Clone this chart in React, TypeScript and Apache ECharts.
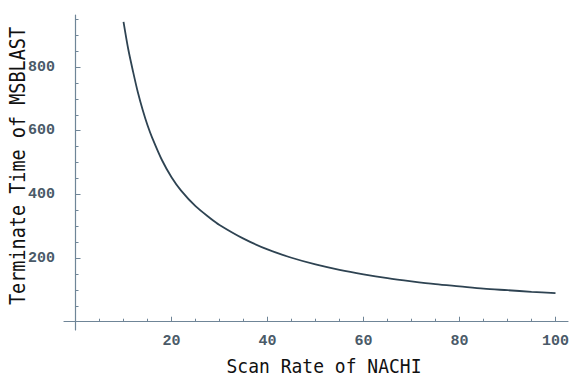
import React, { useEffect, useRef } from "react";
import * as echarts from "echarts";

const scanRate = [10, 11, 12, 13, 14, 15, 16, 18, 20, 22, 25, 28, 30, 35, 40, 45, 50, 55, 60, 65, 70, 75, 80, 85, 90, 95, 100];
const terminateTime = [942, 855, 785, 720, 665, 617, 577, 508, 454, 412, 363, 326, 304, 261, 227, 201, 180, 163, 149, 137, 127, 118, 111, 104, 99, 94, 90];
const xMajorTicks = [20, 40, 60, 80, 100];
const xMinorTicks = [5, 10, 15, 25, 30, 35, 45, 50, 55, 65, 70, 75, 85, 90, 95];
const yMajorTicks = [200, 400, 600, 800];
const yMinorTicks = [50, 100, 150, 250, 300, 350, 450, 500, 550, 650, 700, 750, 850, 900, 950];
const xTitle = "Scan Rate of NACHI";
const yTitle = "Terminate Time of MSBLAST";

const AXIS_COLOR = "#6f8597";
const LABEL_COLOR = "#4a5a68";
const CURVE_COLOR = "#2e4352";

export default function App() {
  const ref = useRef<HTMLDivElement>(null);
  useEffect(() => {
    document.body.style.margin = "0";
    const chart = echarts.init(ref.current!, null, { renderer: "svg" });
    const xRange = { min: -2.4, max: 102.6 };
    const yRange = { min: -26, max: 963.5 };
    const labelFont = {
      fontFamily: "Liberation Mono",
      fontWeight: "bold" as const,
      fontSize: 15,
      color: LABEL_COLOR,
    };
    chart.setOption({
      animation: false,
      backgroundColor: "#ffffff",
      grid: { left: 64, right: 2, top: 15, bottom: 49, containLabel: false },
      xAxis: [
        {
          type: "value",
          ...xRange,
          position: "bottom",
          splitLine: { show: false },
          axisLine: { show: true, onZero: true, onZeroAxisIndex: 0, lineStyle: { color: AXIS_COLOR, width: 1.2 } },
          axisTick: { show: true, inside: true, length: 5, customValues: xMajorTicks, lineStyle: { color: AXIS_COLOR } },
          axisLabel: { show: true, customValues: xMajorTicks, margin: 4, ...labelFont },
        },
        {
          type: "value",
          ...xRange,
          position: "bottom",
          splitLine: { show: false },
          axisLine: { show: false, onZero: true, onZeroAxisIndex: 0 },
          axisTick: { show: true, inside: true, length: 3, customValues: xMinorTicks, lineStyle: { color: AXIS_COLOR } },
          axisLabel: { show: false },
        },
      ],
      yAxis: [
        {
          type: "value",
          ...yRange,
          position: "left",
          splitLine: { show: false },
          axisLine: { show: true, onZero: true, onZeroAxisIndex: 0, lineStyle: { color: AXIS_COLOR, width: 1.2 } },
          axisTick: { show: true, inside: true, length: 5, customValues: yMajorTicks, lineStyle: { color: AXIS_COLOR } },
          axisLabel: { show: true, customValues: yMajorTicks, margin: 9, ...labelFont },
        },
        {
          type: "value",
          ...yRange,
          position: "left",
          splitLine: { show: false },
          axisLine: { show: false, onZero: true, onZeroAxisIndex: 0 },
          axisTick: { show: true, inside: true, length: 3, customValues: yMinorTicks, lineStyle: { color: AXIS_COLOR } },
          axisLabel: { show: false },
        },
      ],
      series: [
        {
          type: "line",
          xAxisIndex: 0,
          yAxisIndex: 0,
          data: scanRate.map((x, i) => [x, terminateTime[i]]),
          showSymbol: false,
          smooth: 0.3,
          lineStyle: { color: CURVE_COLOR, width: 1.8 },
        },
      ],
      graphic: [
        {
          type: "text",
          x: 324,
          y: 366,
          scaleY: 1.12,
          style: {
            text: xTitle,
            font: "18px 'DejaVu Sans Mono'",
            fill: "#111111",
            align: "center",
            verticalAlign: "middle",
          },
        },
        {
          type: "text",
          x: 18,
          y: 166,
          rotation: Math.PI / 2,
          scaleY: 1.12,
          style: {
            text: yTitle,
            font: "18.5px 'DejaVu Sans Mono'",
            fill: "#111111",
            align: "center",
            verticalAlign: "middle",
          },
        },
      ],
    });
    return () => chart.dispose();
  }, []);
  return <div ref={ref} style={{ position: "fixed", left: 0, top: 0, width: 572, height: 379 }} />;
}
